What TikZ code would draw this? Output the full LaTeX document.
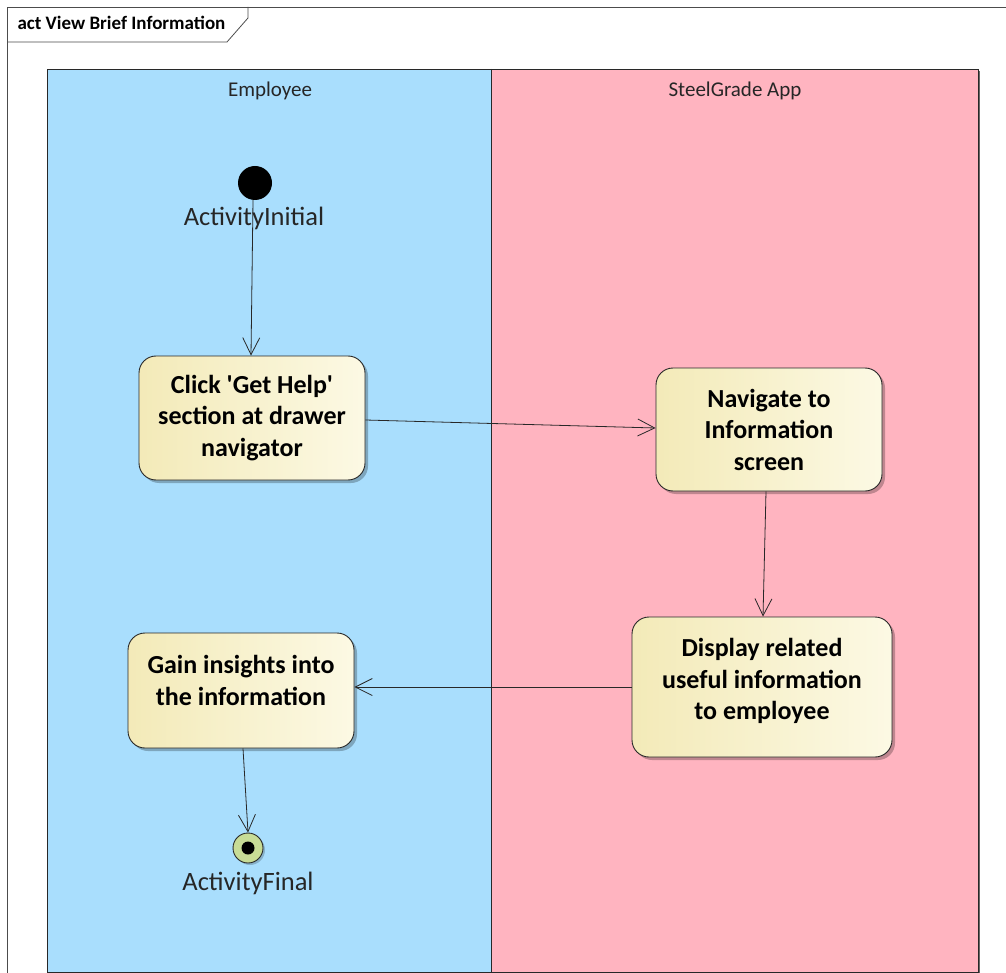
\documentclass[tikz,border=0pt]{standalone}
\usepackage{fontspec}
\setmainfont{Carlito}
\usetikzlibrary{arrows.meta,shadows,calc}
\definecolor{lanea}{RGB}{169,222,253}
\definecolor{laneb}{RGB}{255,180,192}
\definecolor{actleft}{RGB}{243,234,184}
\definecolor{actright}{RGB}{252,249,228}
\definecolor{finalfill}{RGB}{200,220,150}
\definecolor{edge}{RGB}{40,40,40}
\tikzset{
  action/.style={draw=edge, line width=0.9pt, rounded corners=17pt,
    left color=actleft, right color=actright,
    drop shadow={shadow xshift=3pt, shadow yshift=-3pt, opacity=0.25, fill=black},
    font=\fontsize{26}{31.5}\selectfont\bfseries, align=center, inner sep=0pt},
  flow/.style={draw=edge, line width=0.8pt,
    -{Straight Barb[length=17pt,width=17pt,line width=0.8pt]}},
  lanehead/.style={font=\fontsize{21}{24}\selectfont, text=black!85},
  nodelabel/.style={font=\fontsize{26.5}{30}\selectfont, text=black!85}
}
\begin{document}
\begin{tikzpicture}[x=1pt,y=-1pt]
  \useasboundingbox (0,0) rectangle (1006,973);
  \fill[white] (0,0) rectangle (1006,973);
  % swimlanes
  \fill[lanea] (47,69) rectangle (491,972);
  \fill[laneb] (491,69) rectangle (978,972);
  \draw[edge, line width=0.8pt] (47,69) rectangle (978,972);
  \draw[edge, line width=0.8pt] (491,69) -- (491,972);
  \draw[black!60, line width=1.5pt] (979.5,71) -- (979.5,973.5) -- (49,973.5);
  \node[lanehead] (laneA) at (270,91) {Employee};
  \node[lanehead] (laneB) at (735,91) {SteelGrade App};
  % diagram frame
  \draw[black!70, line width=0.8pt] (1007,7) -- (7,7) -- (7,974);
  \draw[black!70, line width=0.8pt] (7,42) -- (227,42) -- (248,18) -- (248,7);
  \node[font=\fontsize{19}{22}\selectfont\bfseries, anchor=west] (title) at (14,23) {act View Brief Information};
  % initial and final nodes
  \node[circle, fill=black, minimum size=34pt, inner sep=0pt] (init) at (255,183) {};
  \node[nodelabel] (initlbl) at (254,218) {ActivityInitial};
  \node[circle, draw=edge, line width=0.9pt, fill=finalfill, minimum size=30pt, inner sep=0pt,
    drop shadow={shadow xshift=2pt, shadow yshift=-2pt, opacity=0.2, fill=black}] (final) at (248,848) {};
  \fill[black] (final.center) circle (6.5pt);
  \node[nodelabel] (finallbl) at (248,883) {ActivityFinal};
  % actions
  \node[action, minimum width=226pt, minimum height=124pt] (click) at (252,418)
    {Click \textquotesingle Get Help\textquotesingle\\section at drawer\\navigator};
  \node[action, minimum width=226pt, minimum height=123pt] (navigate) at (769,429.5)
    {Navigate to\\Information\\screen};
  \node[action, minimum width=260pt, minimum height=140pt, text depth=16pt] (display) at (762,687)
    {Display related\\useful information\\to employee};
  \node[action, minimum width=226pt, minimum height=115pt, text depth=20pt] (gain) at (241,690.5)
    {Gain insights into\\the information};
  % control flows
  \draw[flow] (253,200) -- (click.north -| 251,0);
  \draw[flow] (click.east |- 0,420) -- (navigate.west |- 0,428);
  \draw[flow] (navigate.south -| 766,0) -- (display.north -| 763,0);
  \draw[flow] (display.west |- 0,687) -- (gain.east |- 0,687);
  \draw[flow] (gain.south -| 243,0) -- (final.north);
\end{tikzpicture}
\end{document}
